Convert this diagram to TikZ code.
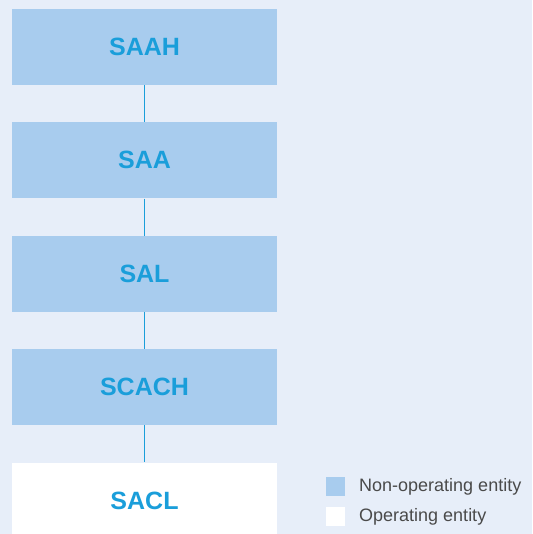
\documentclass[tikz,border=0pt]{standalone}
\usepackage{fontspec}
\setmainfont{Liberation Sans}
\usetikzlibrary{positioning}
\definecolor{bgblue}{HTML}{E7EEF9}
\definecolor{boxblue}{HTML}{A8CCEE}
\definecolor{textblue}{HTML}{1A9EDA}
\definecolor{legendgray}{HTML}{4A4A4A}
\begin{document}
\begin{tikzpicture}[x=1pt,y=1pt,
  entity/.style={fill=boxblue,minimum width=265pt,minimum height=76pt,inner sep=0pt,
    text=textblue,font=\fontsize{25}{30}\selectfont\bfseries},
  operating/.style={entity,fill=white},
  link/.style={draw=textblue,line width=1pt},
  swatch/.style={minimum size=19pt,inner sep=0pt},
  legendtext/.style={anchor=west,inner sep=0pt,text=legendgray,font=\fontsize{18}{21}\selectfont},
  node distance=37pt]
\fill[bgblue] (0,0) rectangle (532,534);
\clip (0,0) rectangle (532,534);
\useasboundingbox (0,0) rectangle (532,534);
% ownership chain
\node[entity] (saah) at (144.5,487) {SAAH};
\node[entity,below=of saah] (saa) {SAA};
\node[entity,below=of saa] (sal) {SAL};
\node[entity,below=of sal] (scach) {SCACH};
\node[operating,below=of scach] (sacl) {SACL};
\draw[link] (saah) -- (saa);
\draw[link] (saa) -- (sal);
\draw[link] (sal) -- (scach);
\draw[link] (scach) -- (sacl);
% legend
\node[swatch,fill=boxblue] (nonop) at (335.5,47.5) {};
\node[swatch,fill=white] (op) at (335.5,17.5) {};
\node[legendtext] (nonoplabel) at (359,47.5) {Non-operating entity};
\node[legendtext] (oplabel) at (359,17.5) {Operating entity};
\end{tikzpicture}
\end{document}
